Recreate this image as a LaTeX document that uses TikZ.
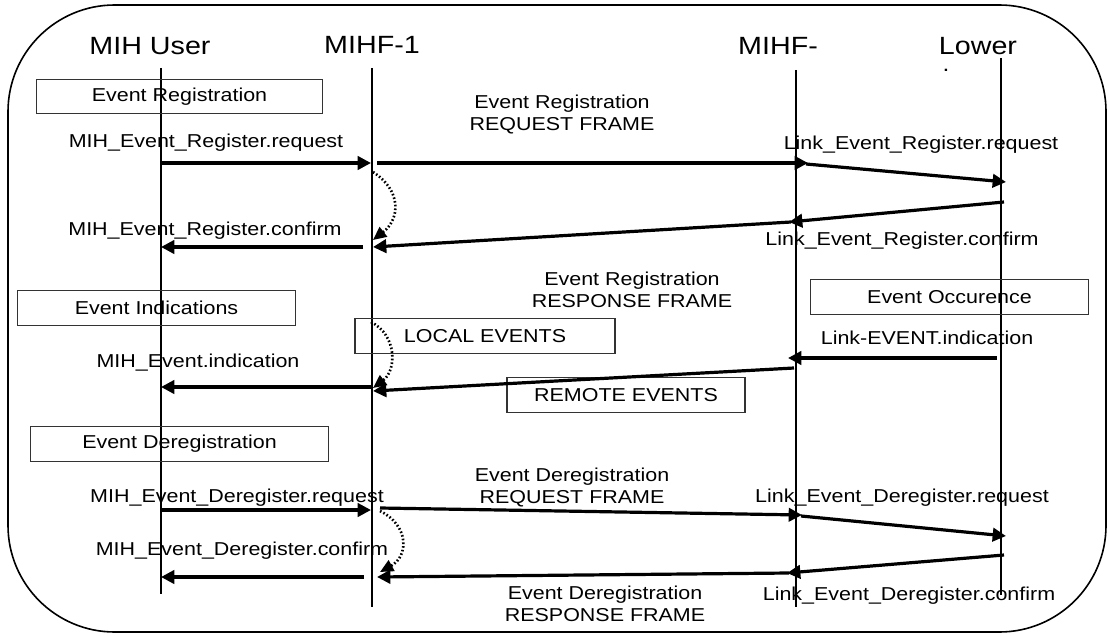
\documentclass[tikz,border=0pt]{standalone}
\usepackage{fontspec}
\setmainfont[FakeStretch=1.15]{Liberation Sans}
\usetikzlibrary{arrows.meta}

\tikzset{
	msg/.style={line width=2.4pt,-{Triangle[length=10pt,width=10pt]}},
	hop/.style={line width=2pt,dash pattern=on 1.2pt off 1.6pt,-{Triangle[length=10pt,width=9pt]}},
	life/.style={line width=0.8pt},
	phase/.style={draw=black!80,line width=0.8pt,inner sep=0pt,minimum height=26pt,
		font=\fontsize{14}{16.5}\selectfont},
	lbl/.style={font=\fontsize{14}{16.5}\selectfont,inner sep=0pt,anchor=base},
	frame/.style={font=\fontsize{14}{16.5}\selectfont,inner sep=0pt,align=center},
	actor/.style={font=\fontsize{18.7}{22}\selectfont,inner sep=0pt,anchor=base}
}

\begin{document}
\begin{tikzpicture}[x=0.75pt,y=-0.75pt]
	\useasboundingbox (0,0) rectangle (1109,635);
	
	\draw[line width=1.2pt][rounded corners=80pt](8,5) rectangle (1106,632);
	
	% actors
	\node[actor] (user) at (150,55){MIH User};
	\node[actor] (mihfA) at (372,54){MIHF-1};
	\node[actor] (mihfB) at (778,55){MIHF-};
	\node[actor] (lower) at (978,55){Lower};
	\node[lbl,font=\fontsize{16}{16}\selectfont] (lowerDot) at (946,72){.};
	
	\coordinate (userTop) at (161,68);
	\coordinate (userEnd) at (161,594);
	\coordinate (mihfATop) at (372,68);
	\coordinate (mihfAEnd) at (372,607);
	\coordinate (mihfBTop) at (796,70);
	\coordinate (mihfBEnd) at (796,607);
	\coordinate (lowerTop) at (1001,58);
	\coordinate (lowerEnd) at (1001,595);
	
	\draw[life](userTop)--(userEnd);
	\draw[life](mihfATop)--(mihfAEnd);
	\draw[life](mihfBTop)--(mihfBEnd);
	\draw[life](lowerTop)--(lowerEnd);
	
	% phases
	\node[phase,minimum width=215pt] (regBox) at (179.5,96.5){Event Registration};
	\node[phase,minimum width=209pt] (indBox) at (156.5,308){Event Indications};
	\node[phase,minimum width=209pt] (occBox) at (949.5,297){Event Occurence};
	\node[phase,minimum width=195pt] (localBox) at (485,336){LOCAL EVENTS};
	\node[phase,minimum width=178.5pt] (remoteBox) at (626,395){REMOTE EVENTS};
	\node[phase,minimum width=223pt] (deregBox) at (179.5,444){Event Deregistration};
	
	% registration
	\coordinate (regU1) at (161,163);
	\coordinate (regA1) at (371,163);
	\coordinate (regA2) at (377,163);
	\coordinate (regB1) at (808,163);
	\coordinate (regB2) at (806,164);
	\coordinate (regL1) at (1006,182);
	\coordinate (regL2) at (1004,202);
	\coordinate (regB3) at (789,222);
	\coordinate (regB4) at (791,222);
	\coordinate (regA3) at (373,247);
	\coordinate (regA4) at (363,247);
	\coordinate (regU2) at (161,247);
	\coordinate (regHop1) at (373,172);
	\coordinate (regHop2) at (373,240);
	
	\draw[msg](regU1)--(regA1);
	\draw[msg](regA2)--(regB1);
	\draw[msg](regB2)--(regL1);
	\draw[msg](regL2)--(regB3);
	\draw[msg](regB4)--(regA3);
	\draw[msg](regA4)--(regU2);
	\draw[hop](regHop1) .. controls (401,190) and (401,218) .. (regHop2);
	
	\node[lbl] (regReq) at (206,147){MIH\_Event\_Register.request};
	\node[lbl] (regConf) at (205,235){MIH\_Event\_Register.confirm};
	\node[frame] (regReqFrame) at (562,114){Event Registration\\REQUEST FRAME};
	\node[lbl] (linkReq) at (921,149){Link\_Event\_Register.request};
	\node[lbl] (linkConf) at (902,245){Link\_Event\_Register.confirm};
	\node[frame] (regRespFrame) at (632,290){Event Registration\\RESPONSE FRAME};
	
	% indications
	\coordinate (indL1) at (997,358);
	\coordinate (indB1) at (788,358);
	\coordinate (indB2) at (794,368);
	\coordinate (indA1) at (373,391);
	\coordinate (indA2) at (371,387);
	\coordinate (indU1) at (161,387);
	\coordinate (indHop1) at (371,322);
	\coordinate (indHop2) at (373,388);
	
	\draw[msg](indL1)--(indB1);
	\draw[msg](indB2)--(indA1);
	\draw[msg](indA2)--(indU1);
	\draw[hop](indHop1) .. controls (397,335) and (397,370) .. (indHop2);
	
	\node[lbl] (linkInd) at (927,344){Link-EVENT.indication};
	\node[lbl] (mihInd) at (198,367){MIH\_Event.indication};
	
	% deregistration
	\coordinate (deregU1) at (161,510);
	\coordinate (deregA1) at (371,510);
	\coordinate (deregA2) at (380,508);
	\coordinate (deregB1) at (802,515);
	\coordinate (deregB2) at (801,516);
	\coordinate (deregL1) at (1006,536);
	\coordinate (deregL2) at (1004,555);
	\coordinate (deregB3) at (787,573);
	\coordinate (deregB4) at (789,573);
	\coordinate (deregA3) at (377,577);
	\coordinate (deregA4) at (364,577);
	\coordinate (deregU2) at (161,577);
	\coordinate (deregHop1) at (380,511);
	\coordinate (deregHop2) at (380,572);
	
	\draw[msg](deregU1)--(deregA1);
	\draw[msg](deregA2)--(deregB1);
	\draw[msg](deregB2)--(deregL1);
	\draw[msg](deregL2)--(deregB3);
	\draw[msg](deregB4)--(deregA3);
	\draw[msg](deregA4)--(deregU2);
	\draw[hop](deregHop1) .. controls (409,525) and (409,556) .. (deregHop2);
	
	\node[lbl] (deregReq) at (237,502){MIH\_Event\_Deregister.request};
	\node[lbl] (deregConf) at (242,555){MIH\_Event\_Deregister.confirm};
	\node[frame] (deregReqFrame) at (572,487){Event Deregistration\\REQUEST FRAME};
	\node[lbl] (linkDeregReq) at (902,502){Link\_Event\_Deregister.request};
	\node[lbl] (linkDeregConf) at (909,600){Link\_Event\_Deregister.confirm};
	\node[frame] (deregRespFrame) at (605,604){Event Deregistration\\RESPONSE FRAME};
	
\end{tikzpicture}
\end{document}
